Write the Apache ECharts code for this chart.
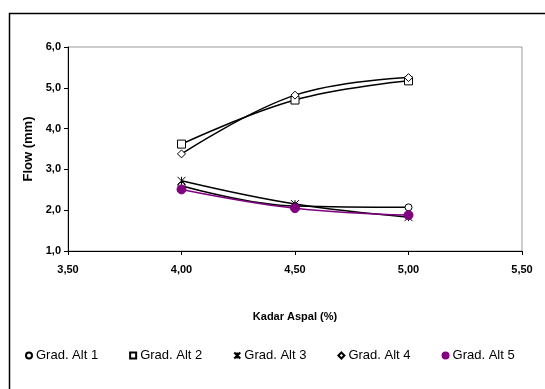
<!DOCTYPE html>
<html>
<head>
<meta charset="utf-8">
<script src="https://cdn.jsdelivr.net/npm/echarts@6/dist/echarts.min.js"></script>
<style>
  html, body { margin: 0; padding: 0; background: #fff; }
  #chart { width: 545px; height: 389px; }
</style>
</head>
<body>
<div id="chart"></div>
<script>
// Asphalt content (%) on the x axis
const kadarAspal = [4.00, 4.50, 5.00];

// Flow (mm) for each gradation alternative
const gradAlt1 = [2.60, 2.10, 2.07];
const gradAlt2 = [3.62, 4.70, 5.17];
const gradAlt3 = [2.72, 2.15, 1.83];
const gradAlt4 = [3.38, 4.82, 5.25];
const gradAlt5 = [2.51, 2.05, 1.88];

const seriesNames = ['Grad. Alt 1', 'Grad. Alt 2', 'Grad. Alt 3', 'Grad. Alt 4', 'Grad. Alt 5'];

const starPath = 'path://M0,0L10,10M10,0L0,10M5,0L5,10';

const font = 'Liberation Sans, Arial, sans-serif';

function pairs(ys) { return kadarAspal.map((x, i) => [x, ys[i]]); }

const styles = [
  { data: gradAlt1, symbol: 'circle', size: 7, fill: '#fff', color: '#000' },
  { data: gradAlt2, symbol: 'rect', size: 8, fill: '#fff', color: '#000' },
  { data: gradAlt3, symbol: starPath, size: 8, fill: '#000', color: '#000' },
  { data: gradAlt4, symbol: 'diamond', size: 8, fill: '#fff', color: '#000' },
  { data: gradAlt5, symbol: 'circle', size: 9, fill: '#800080', color: '#800080' }
];

const chart = echarts.init(document.getElementById('chart'), null, { renderer: 'canvas' });

chart.setOption({
  animation: false,
  backgroundColor: '#fff',
  grid: { left: 68, right: 23, top: 47, bottom: 138, show: true, borderColor: '#999', borderWidth: 1 },
  xAxis: {
    type: 'value', min: 3.5, max: 5.5, interval: 0.5,
    name: 'Kadar Aspal (%)', nameLocation: 'middle', nameGap: 60,
    nameTextStyle: { fontFamily: font, fontSize: 11, fontWeight: 'bold', color: '#000' },
    axisLine: { show: true, lineStyle: { color: '#000', width: 1 } },
    axisTick: { show: true, length: 4, lineStyle: { color: '#000' } },
    axisLabel: { margin: 13, fontFamily: font, fontSize: 11, fontWeight: 'bold', color: '#000',
      formatter: v => v.toFixed(2).replace('.', ',') },
    splitLine: { show: false }
  },
  yAxis: {
    type: 'value', min: 1, max: 6, interval: 1,
    name: 'Flow (mm)', nameLocation: 'middle', nameGap: 33,
    nameTextStyle: { fontFamily: font, fontSize: 13, fontWeight: 'bold', color: '#000' },
    axisLine: { show: true, lineStyle: { color: '#000', width: 1 } },
    axisTick: { show: true, length: 4, lineStyle: { color: '#000' } },
    axisLabel: { margin: 7, fontFamily: font, fontSize: 11, fontWeight: 'bold', color: '#000',
      formatter: v => v.toFixed(1).replace('.', ',') },
    splitLine: { show: false }
  },
  legend: {
    left: 20, top: 344, itemGap: 31, itemWidth: 6, itemHeight: 6,
    textStyle: { fontFamily: font, fontSize: 13, color: '#000', padding: [0, 0, 0, -1] },
    data: seriesNames.map((n, i) => ({ name: n, icon: styles[i].symbol }))
  },
  series: styles.map((s, i) => ({
    name: seriesNames[i],
    type: 'line',
    smooth: 0.4,
    data: pairs(s.data),
    symbol: s.symbol,
    symbolSize: s.size,
    lineStyle: { color: s.color, width: 1.5 },
    itemStyle: { color: s.fill, borderColor: s.color, borderWidth: 1 },
    z: 2 + i
  })),
  graphic: [{
    type: 'rect', left: 7, top: 11,
    shape: { width: 560, height: 400 },
    style: { fill: 'none', stroke: '#000', lineWidth: 1.5 },
    silent: true
  }]
});
</script>
</body>
</html>
